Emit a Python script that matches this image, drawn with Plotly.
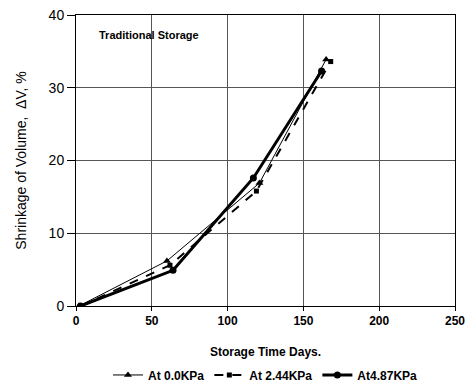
import plotly.graph_objects as go

days_0 = [2, 60, 121, 165]
vals_0 = [0, 6.2, 16.9, 33.9]
days_244 = [3, 62, 119, 168]
vals_244 = [0, 5.6, 15.8, 33.6]
days_487 = [3, 64, 117, 162]
vals_487 = [0, 4.9, 17.6, 32.3]

x_ticks = [0, 50, 100, 150, 200, 250]
y_ticks = [0, 10, 20, 30, 40]

fig = go.Figure()
fig.add_trace(go.Scatter(x=days_0, y=vals_0, mode="lines+markers", name="At 0.0KPa",
                         line=dict(color="black", width=1),
                         marker=dict(symbol="triangle-up", size=7, color="black")))
fig.add_trace(go.Scatter(x=days_244, y=vals_244, mode="lines+markers", name="At 2.44KPa",
                         line=dict(color="black", width=2, dash="dash"),
                         marker=dict(symbol="square", size=5, color="black")))
fig.add_trace(go.Scatter(x=days_487, y=vals_487, mode="lines+markers", name="At4.87KPa",
                         line=dict(color="black", width=3),
                         marker=dict(symbol="circle", size=7, color="black")))

fig.update_layout(
    width=469, height=389,
    margin=dict(l=76, r=14, t=15, b=83, autoexpand=False),
    paper_bgcolor="white", plot_bgcolor="white",
    font=dict(family="Liberation Sans, Arial", color="black"),
    showlegend=True,
    legend=dict(orientation="h", x=0.5, xanchor="center", y=-0.237, yanchor="middle",
                font=dict(size=12, family="Liberation Sans, Arial", weight="bold"),
                itemwidth=30, tracegroupgap=0),
    xaxis=dict(range=[0, 250], tickvals=x_ticks, showgrid=True, gridcolor="#555555", gridwidth=1,
               showline=True, linecolor="black", linewidth=1, mirror=True, automargin=False,
               ticks="outside", ticklen=4, tickcolor="black", zeroline=False,
               ticklabeloverflow="allow",
               tickfont=dict(size=12, weight="bold"),
               title=dict(text="Storage Time Days.", font=dict(size=12, weight="bold"), standoff=20)),
    yaxis=dict(range=[0, 40], tickvals=y_ticks, showgrid=True, gridcolor="#555555", gridwidth=1,
               showline=True, linecolor="black", linewidth=1, mirror=True, automargin=False,
               ticks="outside", ticklen=8, tickcolor="black", zeroline=False,
               ticklabeloverflow="allow",
               tickfont=dict(size=14),
               title=dict(text="Shrinkage of Volume,  ΔV, %", font=dict(size=14), standoff=18)),
    annotations=[dict(x=0.055, y=0.93, xref="paper", yref="paper", text="Traditional Storage",
                      showarrow=False, xanchor="left", yanchor="middle",
                      font=dict(size=11, weight="bold"))],
)

fig.write_html("out.html", config={"displayModeBar": False},
               post_script="document.body.style.margin='0';document.body.style.overflow='hidden';")
